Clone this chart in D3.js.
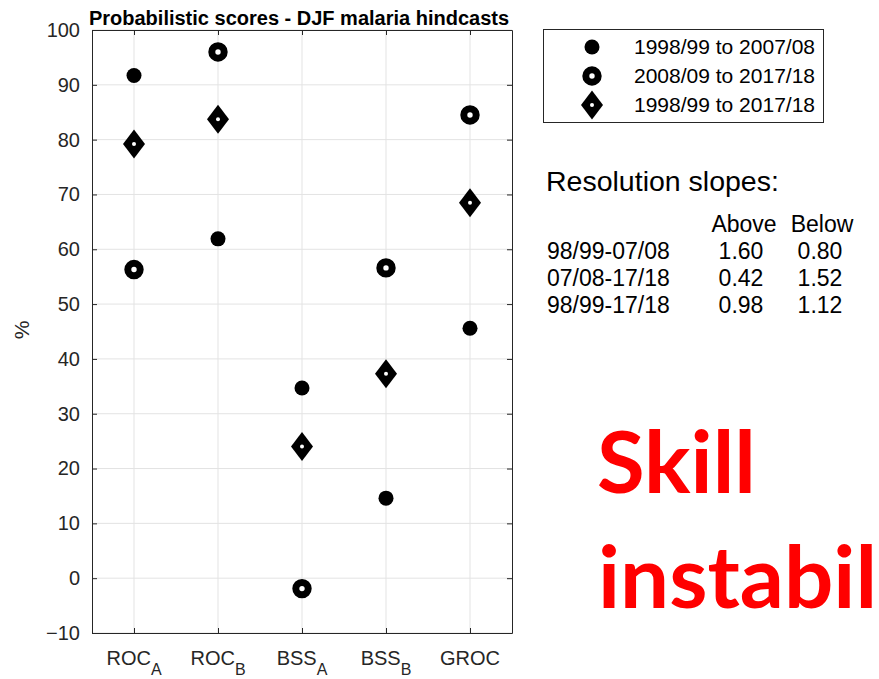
<!DOCTYPE html>
<html>
<head>
<meta charset="utf-8">
<script src="https://cdn.jsdelivr.net/npm/d3@7/dist/d3.min.js"></script>
<style>
  html, body { margin: 0; padding: 0; background: #fff; }
  svg { display: block; font-family: "Liberation Sans", Arial, sans-serif; }
</style>
</head>
<body>
<svg id="chart" width="879" height="679"></svg>
<script>
// Score categories (main text + subscript)
const categories = ["ROC_A", "ROC_B", "BSS_A", "BSS_B", "GROC"];
const catMain = ["ROC", "ROC", "BSS", "BSS", "GROC"];
const catSub = ["A", "B", "A", "B", ""];

// Scores (%) for each hindcast period
const series1998to2008 = [91.7, 61.9, 34.7, 14.6, 45.6];
const series2008to2018 = [56.3, 96.0, -1.9, 56.6, 84.5];
const series1998to2018 = [79.2, 83.7, 24.0, 37.3, 68.5];

const seriesNames = ["1998/99 to 2007/08", "2008/09 to 2017/18", "1998/99 to 2017/18"];
const seriesMarkers = ["dot", "ring", "diamond"];

const yTicks = [-10, 0, 10, 20, 30, 40, 50, 60, 70, 80, 90, 100];

// Resolution slopes table
const slopeRows = ["98/99-07/08", "07/08-17/18", "98/99-17/18"];
const slopeAbove = ["1.60", "0.42", "0.98"];
const slopeBelow = ["0.80", "1.52", "1.12"];

const svg = d3.select("#chart");
const axisColor = "#262626";
const plot = { left: 92, right: 512, top: 30, bottom: 633 };

const x = d3.scaleLinear().domain([0.5, categories.length + 0.5]).range([plot.left, plot.right]);
const y = d3.scaleLinear().domain([-10, 100]).range([plot.bottom, plot.top]);

// Grid lines
const grid = svg.append("g");
grid.selectAll("line.gy").data(yTicks).join("line")
  .attr("x1", plot.left).attr("x2", plot.right)
  .attr("y1", d => y(d)).attr("y2", d => y(d))
  .attr("stroke", "#e3e3e3").attr("stroke-width", 1);
grid.selectAll("line.gx").data(categories).join("line")
  .attr("x1", (d, i) => x(i + 1)).attr("x2", (d, i) => x(i + 1))
  .attr("y1", plot.top).attr("y2", plot.bottom)
  .attr("stroke", "#e3e3e3").attr("stroke-width", 1);

// Axes with inward ticks on all four sides
const tickLen = 5;
const yLeft = d3.axisLeft(y).tickValues(yTicks).tickSizeInner(-tickLen).tickSizeOuter(0).tickPadding(12);
const yRight = d3.axisRight(y).tickValues(yTicks).tickSizeInner(-tickLen).tickSizeOuter(0).tickFormat("");
const xBottom = d3.axisBottom(x).tickValues(d3.range(1, categories.length + 1)).tickSizeInner(-tickLen).tickSizeOuter(0).tickFormat("");
const xTop = d3.axisTop(x).tickValues(d3.range(1, categories.length + 1)).tickSizeInner(-tickLen).tickSizeOuter(0).tickFormat("");

function styleAxis(g) {
  g.select(".domain").attr("stroke", axisColor).attr("stroke-width", 1);
  g.selectAll(".tick line").attr("stroke", axisColor);
  g.selectAll(".tick text").attr("fill", axisColor).attr("font-size", 20)
    .attr("font-family", "Liberation Sans, Arial, sans-serif");
}
svg.append("g").attr("transform", `translate(${plot.left},0)`).call(yLeft).call(styleAxis);
svg.append("g").attr("transform", `translate(${plot.right},0)`).call(yRight).call(styleAxis);
svg.append("g").attr("transform", `translate(0,${plot.bottom})`).call(xBottom).call(styleAxis);
svg.append("g").attr("transform", `translate(0,${plot.top})`).call(xTop).call(styleAxis);

// Category labels with subscripts
const xl = svg.append("g").attr("fill", axisColor).attr("font-size", 20);
categories.forEach((c, i) => {
  const t = xl.append("text").attr("x", x(i + 1)).attr("y", 665).attr("text-anchor", "middle");
  t.append("tspan").text(catMain[i]);
  if (catSub[i]) t.append("tspan").attr("dy", 10).attr("font-size", 16).text(catSub[i]);
});

// Y label
svg.append("text").attr("transform", "translate(29,330) rotate(-90)")
  .attr("text-anchor", "middle").attr("font-size", 21).attr("fill", axisColor).text("%");

// Title
svg.append("text").attr("x", (plot.left + plot.right) / 2 - 3).attr("y", 25)
  .attr("text-anchor", "middle").attr("font-size", 20).attr("font-weight", "bold")
  .attr("fill", "#000").text("Probabilistic scores - DJF malaria hindcasts");

// Marker drawing
function drawMarker(g, type) {
  if (type === "dot") {
    g.append("circle").attr("r", 7.5).attr("fill", "#000");
  } else if (type === "ring") {
    g.append("circle").attr("r", 6.2).attr("fill", "#fff").attr("stroke", "#000").attr("stroke-width", 7);
  } else {
    g.append("path").attr("d", "M0,-14.5L11,0L0,14.5L-11,0Z").attr("fill", "#000");
    g.append("circle").attr("r", 2).attr("fill", "#fff");
  }
}

const allSeries = [series1998to2008, series2008to2018, series1998to2018];
allSeries.forEach((vals, s) => {
  const g = svg.append("g");
  vals.forEach((v, i) => {
    const m = g.append("g").attr("transform", `translate(${x(i + 1)},${y(v)})`);
    drawMarker(m, seriesMarkers[s]);
  });
});

// Legend
const legend = svg.append("g");
legend.append("rect").attr("x", 543.5).attr("y", 29.5).attr("width", 280).attr("height", 93)
  .attr("fill", "#fff").attr("stroke", axisColor).attr("stroke-width", 1);
seriesNames.forEach((name, i) => {
  const cy = 47 + i * 29;
  const m = legend.append("g").attr("transform", `translate(592,${cy})`);
  drawMarker(m, seriesMarkers[i]);
  legend.append("text").attr("x", 634).attr("y", cy + 7).attr("font-size", 21)
    .attr("fill", "#000").text(name);
});

// Resolution slopes annotation
const ann = svg.append("g").attr("fill", "#000");
ann.append("text").attr("x", 546).attr("y", 191).attr("font-size", 28.5).text("Resolution slopes:");
ann.append("text").attr("x", 744).attr("y", 232).attr("font-size", 23).attr("text-anchor", "middle").text("Above");
ann.append("text").attr("x", 822).attr("y", 232).attr("font-size", 23).attr("text-anchor", "middle").text("Below");
slopeRows.forEach((r, i) => {
  const by = 258.5 + i * 27;
  ann.append("text").attr("x", 547).attr("y", by).attr("font-size", 23).text(r);
  ann.append("text").attr("x", 741).attr("y", by).attr("font-size", 23).attr("text-anchor", "middle").text(slopeAbove[i]);
  ann.append("text").attr("x", 820).attr("y", by).attr("font-size", 23).attr("text-anchor", "middle").text(slopeBelow[i]);
});

// Red overlay text
const red = svg.append("g").attr("fill", "#ff0000").attr("font-family", "Lato, sans-serif")
  .attr("font-weight", "bold").attr("font-size", 87);
red.append("text").attr("x", 597).attr("y", 493).text("Skill");
red.append("text").attr("x", 598).attr("y", 608).text("instabil");
</script>
</body>
</html>
